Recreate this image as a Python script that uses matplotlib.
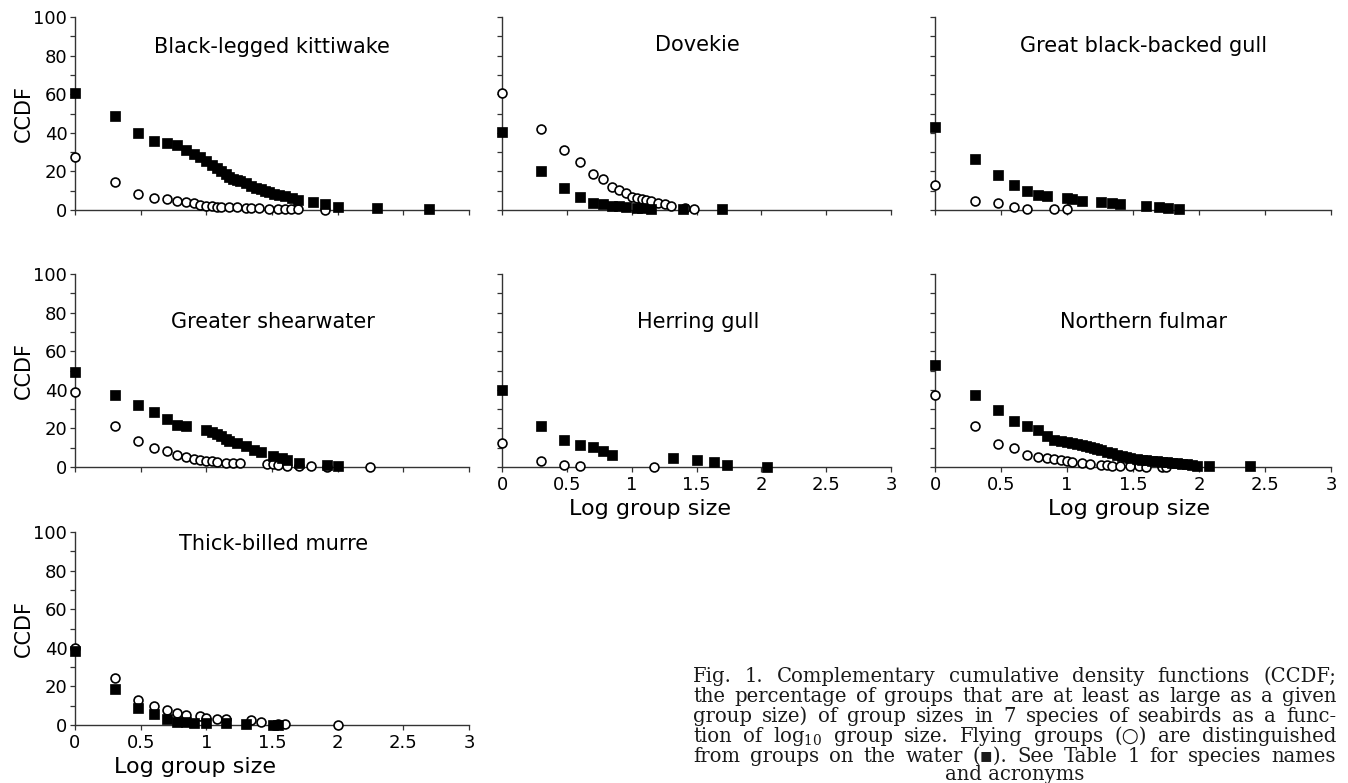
import numpy as np
import matplotlib
matplotlib.use('Agg')
import matplotlib.pyplot as plt

W, H = 1348, 783

# group sizes (plotted as log10) and CCDF in %
# o = flying groups, w = groups on the water
blki_o_n = [1, 2, 3, 4, 5, 6, 7, 8, 9, 10, 11, 12, 13, 15, 17, 20, 22, 25, 30, 35, 40, 44, 50, 80]
blki_o_y = [27.6, 14.3, 8.1, 6.4, 5.5, 4.7, 4.0, 3.4, 2.6, 2.2, 2.1, 1.7, 1.7, 1.4, 1.4, 1.2, 1.0, 0.9, 0.7, 0.6, 0.5, 0.4, 0.3, 0.1]
blki_w_n = [1, 2, 3, 4, 5, 6, 7, 8, 9, 10, 11, 12, 13, 14, 15, 16, 17, 18, 20, 22, 24, 26, 28, 30, 33, 36, 40, 45, 50, 65, 80, 100, 200, 500]
blki_w_y = [60.5, 48.9, 40, 35.9, 34.5, 33.5, 31, 29, 27.3, 25.5, 23.5, 21.8, 20, 18.5, 17, 16.3, 15.6, 14.8, 13.8, 12.5,
            11.5, 10.7, 10, 9.3, 8.5, 7.8, 7, 6.2, 5, 4.3, 3.1, 1.7, 0.9, 0.3]

dove_o_n = [1, 2, 3, 4, 5, 6, 7, 8, 9, 10, 11, 12, 13, 14, 16, 18, 20, 26, 30]
dove_o_y = [60.4, 41.8, 31, 25, 18.5, 15.9, 12.1, 10.4, 8.6, 6.9, 6.0, 5.5, 5.2, 4.8, 3.8, 3.1, 2.1, 0.9, 0.4]
dove_w_n = [1, 2, 3, 4, 5, 6, 7, 8, 9, 11, 12, 14, 25, 50]
dove_w_y = [40.6, 20.4, 11.2, 6.9, 3.8, 2.9, 2.3, 1.9, 1.6, 1.2, 0.9, 0.5, 0.5, 0.3]

gbbg_o_n = [1, 2, 3, 4, 5, 8, 10]
gbbg_o_y = [13, 4.8, 3.5, 1.4, 0.5, 0.3, 0.3]
gbbg_w_n = [1, 2, 3, 4, 5, 6, 7, 10, 11, 13, 18, 22, 25, 40, 50, 58, 70]
gbbg_w_y = [43.2, 26.3, 18.1, 13, 9.8, 7.8, 7.3, 6, 5.5, 4.8, 4.3, 3.5, 2.9, 1.9, 1.4, 0.9, 0.3]

grsh_o_n = [1, 2, 3, 4, 5, 6, 7, 8, 9, 10, 11, 12, 14, 16, 18, 29, 32, 35, 41, 51, 63, 83, 175]
grsh_o_y = [39, 21, 13.6, 9.8, 8.1, 6.4, 5.2, 4.3, 3.8, 3.3, 2.9, 2.6, 2.1, 2, 2, 1.7, 1.6, 1.2, 0.4, 0.4, 0.3, 0.1, 0.1]
grsh_w_n = [1, 2, 3, 4, 5, 6, 7, 10, 11, 12, 13, 14, 15, 17, 20, 23, 26, 32, 38, 41, 51, 83, 100]
grsh_w_y = [49, 37.5, 32, 28.5, 25, 22, 21, 19.3, 18, 17.3, 16, 14.7, 13.3, 12.4, 10.7, 9, 7.6, 5.9, 4.7, 3.5, 2.1, 0.9, 0.4]

herg_o_n = [1, 2, 3, 4, 15]
herg_o_y = [12.5, 3.3, 0.9, 0.3, 0.2]
herg_w_n = [1, 2, 3, 4, 5, 6, 7, 21, 32, 43, 54, 110]
herg_w_y = [39.9, 21, 14, 11.5, 10.3, 8.4, 6, 4.6, 3.4, 2.4, 1.2, 0.2]

nofu_o_n = [1, 2, 3, 4, 5, 6, 7, 8, 9, 10, 11, 13, 15, 18, 20, 22, 25, 30, 35, 40, 52, 56]
nofu_o_y = [37.3, 21, 12, 9.8, 6.4, 5, 4.6, 4.3, 3.8, 3.3, 2.6, 2.1, 1.5, 1.2, 0.9, 0.7, 0.5, 0.5, 0.3, 0.2, 0.2, 0.1]
nofu_w_n = [1, 2, 3, 4, 5, 6, 7, 8, 9, 10, 11, 12, 13, 14, 15, 16, 17, 18, 20, 22, 24, 26, 28, 30,
            34, 37, 40, 44, 48, 52, 57, 62, 68, 74, 81, 88, 96, 120, 245]
nofu_w_y = [53, 37.3, 29.6, 23.9, 21, 19.2, 16.2, 14.1, 13.5, 12.9, 12.4, 12, 11.3, 10.7, 10.2, 9.7, 9.3, 8.8,
            7.7, 7.0, 6.4, 5.8, 5.2, 4.7, 4.1, 3.7, 3.4, 3.1, 2.9, 2.6, 2.4, 2.1, 1.9, 1.6, 1.4, 1.0, 0.7, 0.3, 0.3]

tbmu_o_n = [1, 2, 3, 4, 5, 6, 7, 9, 10, 12, 14, 22, 26, 35, 40, 100]
tbmu_o_y = [39.7, 24.5, 12.9, 10, 7.8, 6, 5.2, 4.7, 3.8, 2.9, 2.9, 2.6, 1.4, 0.3, 0.3, 0]
tbmu_w_n = [1, 2, 3, 4, 5, 6, 7, 8, 10, 14, 20, 32, 35]
tbmu_w_y = [38.4, 18.6, 8.6, 5.5, 2.9, 1.7, 1.4, 0.9, 0.9, 0.9, 0.3, 0.1, 0.1]

titles = ['Black-legged kittiwake', 'Dovekie', 'Great black-backed gull',
          'Greater shearwater', 'Herring gull', 'Northern fulmar', 'Thick-billed murre']
flying = [(blki_o_n, blki_o_y), (dove_o_n, dove_o_y), (gbbg_o_n, gbbg_o_y), (grsh_o_n, grsh_o_y),
          (herg_o_n, herg_o_y), (nofu_o_n, nofu_o_y), (tbmu_o_n, tbmu_o_y)]
water = [(blki_w_n, blki_w_y), (dove_w_n, dove_w_y), (gbbg_w_n, gbbg_w_y), (grsh_w_n, grsh_w_y),
         (herg_w_n, herg_w_y), (nofu_w_n, nofu_w_y), (tbmu_w_n, tbmu_w_y)]

xticks = [0, 0.5, 1, 1.5, 2, 2.5, 3]
xticklabels = ['0', '0.5', '1', '1.5', '2', '2.5', '3']
yticks = list(range(0, 101, 10))
yticklabels = [str(v) if v % 20 == 0 else '' for v in yticks]

caption_lines = [
    'Fig. 1. Complementary cumulative density functions (CCDF;',
    'the percentage of groups that are at least as large as a given',
    'group size) of group sizes in 7 species of seabirds as a func-',
    'tion of log$_{10}$ group size. Flying groups (\u25cb) are distinguished',
    'from groups on the water (\u25aa). See Table 1 for species names',
    'and acronyms',
]

# layout in pixels
cols = [(75, 469), (502, 891), (935, 1331)]
rows = [(17, 210), (274, 467), (532, 725)]
grid = [(0, 0), (0, 1), (0, 2), (1, 0), (1, 1), (1, 2), (2, 0)]
title_y = [84.5, 85.5, 85, 75, 75, 75, 94]
title_x = [1.5, 1.51, 1.58, 1.51, 1.51, 1.58, 1.51]
xlab_x = {0: 0.305, 1: 0.38, 2: 0.49}
show_xticklabels = [False, False, False, False, True, True, True]

plt.rcParams['font.family'] = 'DejaVu Sans'
plt.rcParams['mathtext.fontset'] = 'dejavuserif'

fig = plt.figure(figsize=(W / 100, H / 100), dpi=100)

for i, (r, c) in enumerate(grid):
    x0, x1 = cols[c]
    y1, y0 = rows[r]
    ax = fig.add_axes([x0 / W, 1 - y0 / H, (x1 - x0) / W, (y0 - y1) / H])
    ax.set_xlim(0, 3)
    ax.set_ylim(0, 100)
    for s in ['top', 'right']:
        ax.spines[s].set_visible(False)
    for s in ['left', 'bottom']:
        ax.spines[s].set_color('#333333')
        ax.spines[s].set_linewidth(1.0)
    ax.set_xticks(xticks)
    ax.set_yticks(yticks)
    ax.tick_params(axis='both', direction='out', length=3.5, width=0.9, color='#333333',
                   labelsize=13)
    ax.tick_params(axis='y', pad=2)
    ax.tick_params(axis='x', pad=3)
    if c == 0:
        ax.set_yticklabels(yticklabels)
        ax.set_ylabel('CCDF', fontsize=15)
        ax.yaxis.set_label_coords(-0.105, 0.5)
    else:
        ax.set_yticklabels([])
    if show_xticklabels[i]:
        ax.set_xticklabels(xticklabels)
        ax.set_xlabel('Log group size', fontsize=16)
        ax.xaxis.set_label_coords(xlab_x[c], -0.165)
    else:
        ax.set_xticklabels([])

    on, oy = flying[i]
    wn, wy = water[i]
    ax.plot(np.log10(on), oy, 'o', ms=6.4, mfc='white', mec='black', mew=1.2,
            linestyle='none', clip_on=False, zorder=3)
    ax.plot(np.log10(wn), wy, 's', ms=7.3, mfc='black', mec='black', mew=0.5,
            linestyle='none', clip_on=False, zorder=4)
    ax.text(title_x[i], title_y[i], titles[i], ha='center', va='center', fontsize=15)

# caption, justified like the printed figure
cap_left, cap_right = 693, 1336
cap_base = [682, 702, 722, 742, 762, 780]
fam = ['DejaVu Serif', 'DejaVu Sans']
fig.canvas.draw()
rend = fig.canvas.get_renderer()
# size the caption font from the longest line, leaving some extra word spacing
probe = fig.text(0, 0, caption_lines[1], family=fam, fontsize=10)
cap_size = 10 * (cap_right - cap_left) / probe.get_window_extent(rend).width * 0.95
probe.remove()
capfont = dict(family=fam, fontsize=cap_size, color='#1a1a1a')
for k, line in enumerate(caption_lines):
    yb = 1 - cap_base[k] / H
    if k == len(caption_lines) - 1:
        fig.text((cap_left + cap_right) / 2 / W, yb, line, ha='center', va='baseline', **capfont)
        continue
    words = line.split(' ')
    arts = [fig.text(0, yb, w, ha='left', va='baseline', **capfont) for w in words]
    widths = [a.get_window_extent(rend).width for a in arts]
    gap = (cap_right - cap_left - sum(widths)) / (len(words) - 1)
    x = cap_left
    for a, wd in zip(arts, widths):
        a.set_x(x / W)
        x += wd + gap

fig.savefig('out.png', dpi=100)
